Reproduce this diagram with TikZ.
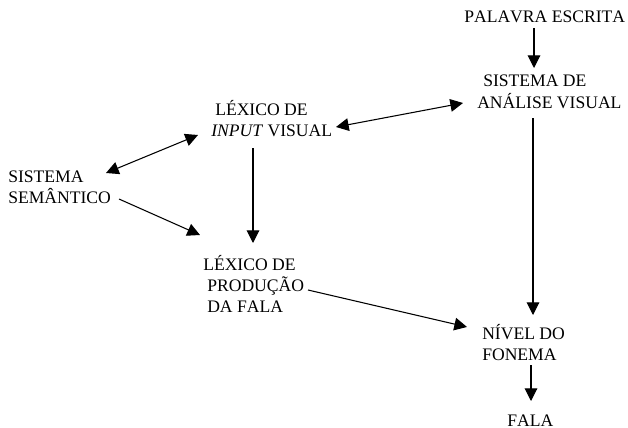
\documentclass[tikz,border=0pt]{standalone}
\usepackage{fontspec}
\setmainfont{Liberation Serif}[Kerning=Off]
\usetikzlibrary{arrows.meta}
\newcommand\mylines[1]{\begin{tabular}[t]{@{}l@{}}#1\end{tabular}}
\begin{document}
\begin{tikzpicture}[x=0.75pt,y=-0.75pt,
  lbl/.style={anchor=base west, inner sep=0pt, font=\fontsize{13.2}{15.75}\selectfont},
  arr/.style={line width=0.8pt, -{Triangle[length=9.5pt,width=9.5pt]}},
  darr/.style={line width=0.8pt, {Triangle[length=9.5pt,width=9.5pt]}-{Triangle[length=9.5pt,width=9.5pt]}}]
\useasboundingbox (0,0) rectangle (628,428);
\fill[white] (0,0) rectangle (628,428);

\node[lbl] (pal) at (464,23) {PALAVRA ESCRITA};
\node[lbl] (sav) at (477,87) {\mylines{\hspace*{4.5pt}SISTEMA DE\\ANÁLISE VISUAL}};
\node[lbl] (lin) at (211,115) {\mylines{\hspace*{3pt}LÉXICO DE\\\textit{INPUT} VISUAL}};
\node[lbl] (sem) at (8,182) {\mylines{SISTEMA\\SEMÂNTICO}};
\node[lbl] (lpr) at (203,270) {\mylines{LÉXICO DE\\\hspace*{3pt}PRODUÇÃO\\\hspace*{3pt}DA FALA}};
\node[lbl] (niv) at (482,339) {\mylines{NÍVEL DO\\FONEMA}};
\node[lbl] (fala) at (507,426) {FALA};

\draw[arr] ([shift={(70,5)}]pal.base west) -- ([shift={(57,-19)}]sav.base west);
\draw[arr] ([shift={(56,31)}]sav.base west) -- ([shift={(51,-24)}]niv.base west);
\draw[arr] ([shift={(49,26)}]niv.base west) -- ([shift={(24,-25)}]fala.base west);
\draw[darr] ([shift={(125,12)}]lin.base west) -- ([shift={(-14,16)}]sav.base west);
\draw[darr] ([shift={(98,-9)}]sem.base west) -- ([shift={(-13,20)}]lin.base west);
\draw[arr] ([shift={(111,17)}]sem.base west) -- ([shift={(-3,-35)}]lpr.base west);
\draw[arr] ([shift={(42,33)}]lin.base west) -- ([shift={(50,-27)}]lpr.base west);
\draw[arr] ([shift={(105,20)}]lpr.base west) -- ([shift={(-15,-12)}]niv.base west);
\end{tikzpicture}
\end{document}
